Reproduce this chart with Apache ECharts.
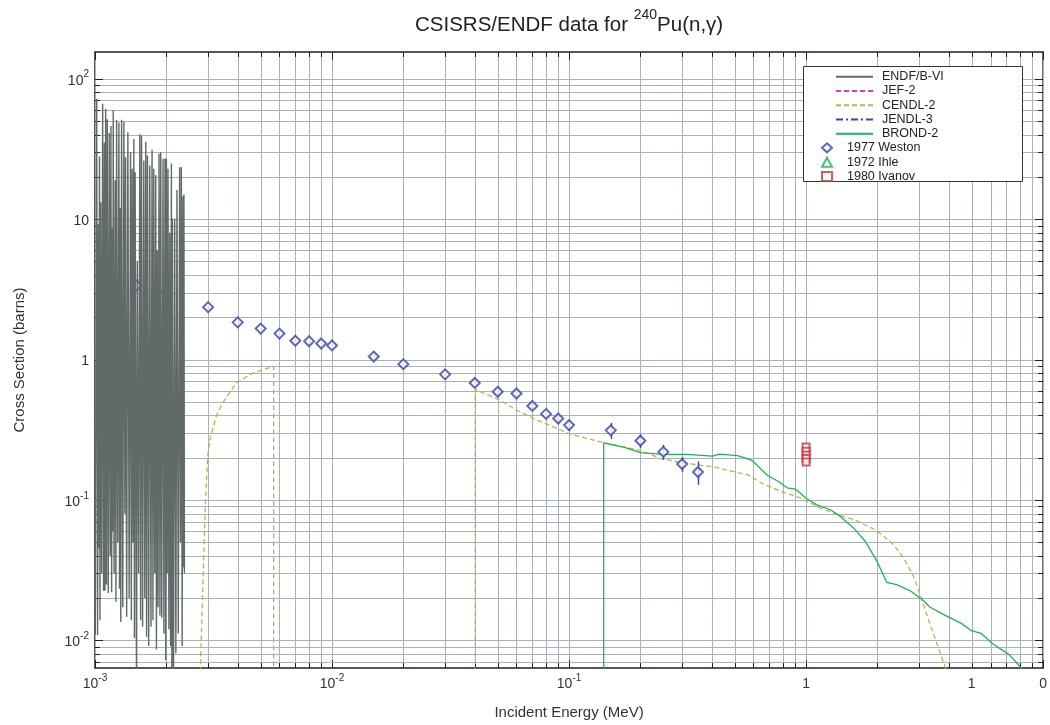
<!DOCTYPE html>
<html>
<head>
<meta charset="utf-8">
<script src="https://cdn.jsdelivr.net/npm/echarts@6/dist/echarts.min.js"></script>
<style>
  html, body { margin: 0; padding: 0; background: #ffffff; }
  #chart { width: 1050px; height: 725px; }
</style>
</head>
<body>
<div id="chart"></div>
<script>
// ---- ENDF/B-VI resolved-resonance region (energies in keV, cross sections in barns)
const endfResE_keV = [1.003,1.0166,1.0255,1.0334,1.0385,1.0445,1.0496,1.0577,1.0670,1.0773,1.0868,1.0952,1.1016,1.1091,1.1177,1.1264,1.1373,1.1484,1.1584,1.1674,1.1754,1.1845,1.1891,1.1937,1.2041,1.2170,1.2253,1.2336,1.2468,1.2614,1.2687,1.2773,1.2848,1.2947,1.3099,1.3239,1.3368,1.3459,1.3603,1.3761,1.3935,1.4125,1.4235,1.4346,1.4471,1.4584,1.4669,1.4768,1.4970,1.5086,1.5277,1.5455,1.5575,1.5712,1.5880,1.6065,1.6221,1.6379,1.6506,1.6650,1.6845,1.7025,1.7224,1.7408,1.7560,1.7697,1.7869,1.8042,1.8165,1.8306,1.8448,1.8628,1.8791,1.8937,1.9121,1.9363,1.9532,1.9741,1.9876,2.0011,2.0166,2.0323,2.0501,2.0660,2.0841,2.1003,2.1105,2.1207,2.1434,2.1684,2.1937,2.2172,2.2453,2.2759,2.2936,2.3136,2.3316,2.3497,2.3611,2.3726,2.3841];
const endfResXS = [0.011,72,0.0109,9.2,0.045,27.9,0.0139,13.2,0.03,66.3,0.0225,35,0.0225,61.2,0.025,51.4,0.0217,41,0.04,46,0.022,8.6,0.06,59.8,0.03,18.9,0.0188,51,0.05,48.7,0.0233,12,0.0135,51,0.0172,49.3,0.08,27.6,0.0147,41.5,0.02,29.9,0.0139,22.8,0.05,37.2,0.0104,21.6,0.004,5,0.03,40.2,0.0139,39.2,0.0125,26.1,0.02,35.4,0.0106,28.4,0.0091,24.1,0.0125,31.2,0.0139,22.8,0.03,20.5,0.0086,6,0.0172,29.2,0.015,29.9,0.0145,26.9,0.0112,27,0.0072,26.9,0.03,22.8,0.012,8,0.0091,24.9,0.004,10.1,0.004,10.1,0.0081,16.1,0.0112,23.4,0.05,23.4,0.0091,14.5,0.0331,15,0.03];

// ---- CENDL-2 evaluation (MeV, barns), two evaluated pieces
const cendlLowE  = [0.00276,0.00285,0.00292,0.00299,0.00306,0.00325,0.00346,0.00394,0.00463,0.00567,0.00567];
const cendlLowXS = [0.004,0.024,0.092,0.207,0.273,0.397,0.492,0.681,0.80,0.893,0.004];
const cendlHighE  = [0.0402,0.0402,0.0503,0.0611,0.0718,0.0899,0.101,0.141,0.2,0.244,0.301,0.409,0.513,0.565,0.664,0.805,0.916,1.016,1.148,1.394,1.637,1.987,2.334,2.574,2.835,3.02,3.327,3.85,4.1];
const cendlHighXS = [0.004,0.612,0.520,0.430,0.376,0.320,0.295,0.255,0.225,0.197,0.184,0.1716,0.1567,0.1517,0.129,0.113,0.1055,0.0973,0.0875,0.0775,0.0711,0.0605,0.0482,0.0389,0.0288,0.0214,0.0132,0.00653,0.0052];

// ---- BROND-2 evaluation (MeV, barns)
const brondE  = [0.140,0.140,0.1714,0.2,0.252,0.316,0.403,0.430,0.513,0.565,0.593,0.686,0.768,0.832,0.902,1.01,1.112,1.265,1.394,1.586,1.775,1.987,2.189,2.411,2.742,3.123,3.327,3.79,4.52,4.98,5.48,6.15,7.21,8.09,8.4];
const brondXS = [0.004,0.255,0.237,0.217,0.211,0.211,0.205,0.212,0.207,0.197,0.1904,0.150,0.1346,0.122,0.1195,0.1016,0.0922,0.0851,0.0763,0.0632,0.0508,0.0368,0.0259,0.0249,0.0226,0.0192,0.01726,0.0153,0.0132,0.0117,0.0112,0.0094,0.00787,0.00635,0.0058];

// ---- JEF-2 and JENDL-3 (not shown within the plotted window)
const jef2E = [], jef2XS = [];
const jendl3E = [], jendl3XS = [];

// ---- Measurements (MeV, barns)
const westonE   = [0.0015,0.002,0.003,0.004,0.005,0.006,0.007,0.008,0.009,0.01,0.015,0.02,0.03,0.04,0.05,0.06,0.07,0.08,0.09,0.1,0.15,0.2,0.25,0.3,0.35];
const westonXS  = [3.37,3.01,2.36,1.84,1.66,1.53,1.36,1.35,1.30,1.26,1.05,0.927,0.784,0.681,0.589,0.573,0.467,0.410,0.380,0.341,0.313,0.264,0.220,0.180,0.158];
const westonErr = [0.1,0.09,0.07,0.06,0.05,0.05,0.04,0.04,0.04,0.04,0.03,0.03,0.025,0.025,0.025,0.025,0.025,0.025,0.03,0.03,0.041,0.03,0.027,0.022,0.03];
const ihleE = [], ihleXS = [];
const ivanovE  = [1,1,1,1,1];
const ivanovXS = [0.238,0.222,0.208,0.197,0.186];

// ---- Axis ticks and labels
const xTickValues = [0.001,0.01,0.1,1,5,10];
const xTickLabels = ['10^-3','10^-2','10^-1','1','1','0'];
const yTickValues = [0.01,0.1,1,10,100];
const yTickLabels = ['10^-2','10^-1','1','10','10^2'];
const decadeMultipliers = [1,2,3,4,5,6,7,8,9];
const xDecades = [0.001,0.01,0.1,1];
const yDecades = [0.001,0.01,0.1,1,10,100];

const X_MIN = 0.001, X_MAX = 10;
const Y_MIN = 0.00635, Y_MAX = 155;

const FONT = 'Liberation Sans, Arial, sans-serif';

const gridXValues = [];
xDecades.forEach(d => decadeMultipliers.forEach(m => gridXValues.push(+(d * m).toPrecision(6))));
gridXValues.push(10);
const gridYValues = [];
yDecades.forEach(d => decadeMultipliers.forEach(m => {
  const v = +(d * m).toPrecision(6);
  if (v > Y_MIN && v < Y_MAX) gridYValues.push(v);
}));

const zip = (a, b) => a.map((v, i) => [v, b[i]]);

function isDecade(v) {
  const l = Math.log10(v);
  return Math.abs(l - Math.round(l)) < 1e-6;
}

function supLabel(txt) {
  const parts = txt.split('^');
  if (parts.length === 1) return '{b|' + txt + '}';
  return '{b|' + parts[0] + '}{s|' + parts[1] + '}';
}

const labelRich = {
  b: { fontSize: 14, color: '#333', fontFamily: FONT, lineHeight: 18, verticalAlign: 'bottom' },
  s: { fontSize: 10, color: '#333', fontFamily: FONT, lineHeight: 18, verticalAlign: 'top', padding: [0, 0, 8, 0] }
};

const GRID_COLOR = '#abb1bc';
const TICK_COLOR = '#1d221d';

// grid lines plus inward frame ticks, placed through the axis scales
function verticalGridItem(params, api) {
  const cs = params.coordSys;
  const x = Math.round(api.coord([api.value(0), 1])[0]) + 0.5;
  const len = isDecade(api.value(0)) ? 8 : 5;
  const top = cs.y, bottom = cs.y + cs.height;
  return {
    type: 'group',
    children: [
      { type: 'line', shape: { x1: x, y1: top, x2: x, y2: bottom }, style: { stroke: GRID_COLOR, lineWidth: 1 } },
      { type: 'line', shape: { x1: x, y1: bottom, x2: x, y2: bottom - len }, style: { stroke: TICK_COLOR, lineWidth: 1 } },
      { type: 'line', shape: { x1: x, y1: top, x2: x, y2: top + len }, style: { stroke: TICK_COLOR, lineWidth: 1 } }
    ]
  };
}
function horizontalGridItem(params, api) {
  const cs = params.coordSys;
  const y = Math.round(api.coord([1, api.value(1)])[1]) + 0.5;
  const len = isDecade(api.value(1)) ? 8 : 5;
  const left = cs.x, right = cs.x + cs.width;
  return {
    type: 'group',
    children: [
      { type: 'line', shape: { x1: left, y1: y, x2: right, y2: y }, style: { stroke: GRID_COLOR, lineWidth: 1 } },
      { type: 'line', shape: { x1: left, y1: y, x2: left + len, y2: y }, style: { stroke: TICK_COLOR, lineWidth: 1 } },
      { type: 'line', shape: { x1: right, y1: y, x2: right - len, y2: y }, style: { stroke: TICK_COLOR, lineWidth: 1 } }
    ]
  };
}
function errorBarItem(params, api) {
  const e = api.value(0);
  const p1 = api.coord([e, api.value(1)]);
  const p2 = api.coord([e, api.value(2)]);
  const x = Math.round(p1[0]) + 0.5;
  return { type: 'line', shape: { x1: x, y1: p1[1], x2: x, y2: p2[1] }, style: { stroke: '#3a41a8', lineWidth: 1.4 } };
}

const COL = {
  endf: '#626969',
  jef: '#d040b4',
  cendl: '#bdb447',
  jendl: '#3445ad',
  brond: '#1db35a',
  weston: '#3a41a8',
  ihle: '#1db35a',
  ivanov: '#c0363a'
};

const chart = echarts.init(document.getElementById('chart'), null, { renderer: 'canvas' });

chart.setOption({
  animation: false,
  backgroundColor: '#ffffff',
  title: {
    text: '{t|CSISRS/ENDF data for }{s|240}{t|Pu(n,γ)}',
    left: 410,
    top: 3,
    textStyle: {
      fontWeight: 'normal',
      rich: {
        t: { fontSize: 20.5, fontWeight: 'normal', color: '#222', fontFamily: FONT, lineHeight: 28, verticalAlign: 'bottom' },
        s: { fontSize: 14, fontWeight: 'normal', color: '#222', fontFamily: FONT, lineHeight: 28, verticalAlign: 'top', padding: [0, 0, 8, 0] }
      }
    }
  },
  grid: {
    left: 95, right: 3, top: 52, bottom: 50,
    show: true, borderColor: '#1d221d', borderWidth: 1.5, backgroundColor: 'transparent'
  },
  legend: [
    {
      orient: 'vertical', left: 830, top: 64.5, itemWidth: 37, itemHeight: 10, itemGap: 0,
      selectedMode: false, z: 10,
      itemStyle: { opacity: 0 },
      data: ['ENDF/B-VI', 'JEF-2', 'CENDL-2', 'JENDL-3', 'BROND-2'],
      textStyle: { fontSize: 12.5, lineHeight: 14.3, color: '#222', fontFamily: FONT, padding: [0, 0, 0, 4] }
    },
    {
      orient: 'vertical', left: 816, top: 135.7, itemWidth: 10, itemHeight: 9, itemGap: 0,
      selectedMode: false, z: 10,
      data: ['1977 Weston', '1972 Ihle', '1980 Ivanov'],
      textStyle: { fontSize: 12.5, lineHeight: 14.3, color: '#222', fontFamily: FONT, padding: [0, 0, 0, 10] }
    }
  ],
  graphic: [
    {
      type: 'rect', z: 8,
      shape: { x: 803.5, y: 66.5, width: 219, height: 115 },
      style: { fill: '#ffffff', stroke: '#333', lineWidth: 1 }
    }
  ],
  xAxis: {
    type: 'log', logBase: 10, min: X_MIN, max: X_MAX,
    name: 'Incident Energy (MeV)', nameLocation: 'middle', nameGap: 37,
    nameTextStyle: { fontSize: 15, color: '#333', fontFamily: FONT },
    axisLine: { show: false }, axisTick: { show: false }, splitLine: { show: false },
    axisLabel: {
      margin: 5,
      customValues: xTickValues,
      formatter: function (v) {
        const i = xTickValues.findIndex(t => Math.abs(t - v) / t < 1e-6);
        return i < 0 ? '' : supLabel(xTickLabels[i]);
      },
      rich: labelRich
    }
  },
  yAxis: {
    type: 'log', logBase: 10, min: Y_MIN, max: Y_MAX,
    name: 'Cross Section (barns)', nameLocation: 'middle', nameGap: 68, nameRotate: 90,
    nameTextStyle: { fontSize: 15, color: '#333', fontFamily: FONT },
    axisLine: { show: false }, axisTick: { show: false }, splitLine: { show: false },
    axisLabel: {
      margin: 6,
      customValues: yTickValues,
      formatter: function (v) {
        const i = yTickValues.findIndex(t => Math.abs(t - v) / t < 1e-6);
        return i < 0 ? '' : supLabel(yTickLabels[i]);
      },
      rich: labelRich
    }
  },
  series: [
    {
      type: 'custom', name: 'gridX', z: 1, silent: true, clip: false,
      renderItem: verticalGridItem, encode: { x: 0, y: 1 },
      data: gridXValues.map(v => [v, 1])
    },
    {
      type: 'custom', name: 'gridY', z: 1, silent: true, clip: false,
      renderItem: horizontalGridItem, encode: { x: 0, y: 1 },
      data: gridYValues.map(v => [1, v])
    },
    {
      type: 'line', name: 'ENDF/B-VI', z: 6, symbol: 'none', clip: true,
      lineStyle: { color: COL.endf, width: 1.4 }, itemStyle: { color: COL.endf },
      data: endfResE_keV.map((e, i) => [e / 1000, endfResXS[i]])
    },
    {
      type: 'line', name: 'JEF-2', z: 3, symbol: 'none',
      lineStyle: { color: COL.jef, width: 1.2, type: [5, 3] }, itemStyle: { color: COL.jef },
      data: zip(jef2E, jef2XS)
    },
    {
      type: 'line', name: 'CENDL-2', z: 3, symbol: 'none', clip: true,
      lineStyle: { color: COL.cendl, width: 1.3, type: [5, 3] }, itemStyle: { color: COL.cendl },
      data: zip(cendlLowE, cendlLowXS)
    },
    {
      type: 'line', name: 'CENDL-2', z: 3, symbol: 'none', clip: true,
      lineStyle: { color: COL.cendl, width: 1.3, type: [5, 3] }, itemStyle: { color: COL.cendl },
      data: zip(cendlHighE, cendlHighXS)
    },
    {
      type: 'line', name: 'JENDL-3', z: 3, symbol: 'none',
      lineStyle: { color: COL.jendl, width: 1.2, type: [7, 3, 2, 3] }, itemStyle: { color: COL.jendl },
      data: zip(jendl3E, jendl3XS)
    },
    {
      type: 'line', name: 'BROND-2', z: 3, symbol: 'none', clip: true,
      lineStyle: { color: COL.brond, width: 1.3 }, itemStyle: { color: COL.brond },
      data: zip(brondE, brondXS)
    },
    {
      type: 'custom', name: 'westonErr', z: 4, silent: true,
      renderItem: errorBarItem, encode: { x: 0, y: [1, 2] },
      data: westonE.map((e, i) => [e, westonXS[i] - westonErr[i], westonXS[i] + westonErr[i]])
    },
    {
      type: 'scatter', name: '1977 Weston', z: 5, symbol: 'emptyDiamond', symbolSize: 10,
      itemStyle: { color: COL.weston, borderWidth: 1.4 },
      data: zip(westonE, westonXS)
    },
    {
      type: 'scatter', name: '1972 Ihle', z: 5, symbol: 'emptyTriangle', symbolSize: 9,
      itemStyle: { color: COL.ihle, borderWidth: 1.3 },
      data: zip(ihleE, ihleXS)
    },
    {
      type: 'scatter', name: '1980 Ivanov', z: 5, symbol: 'emptyRect', symbolSize: 7,
      itemStyle: { color: COL.ivanov, borderWidth: 1.2 },
      data: zip(ivanovE, ivanovXS)
    }
  ]
});
</script>
</body>
</html>
